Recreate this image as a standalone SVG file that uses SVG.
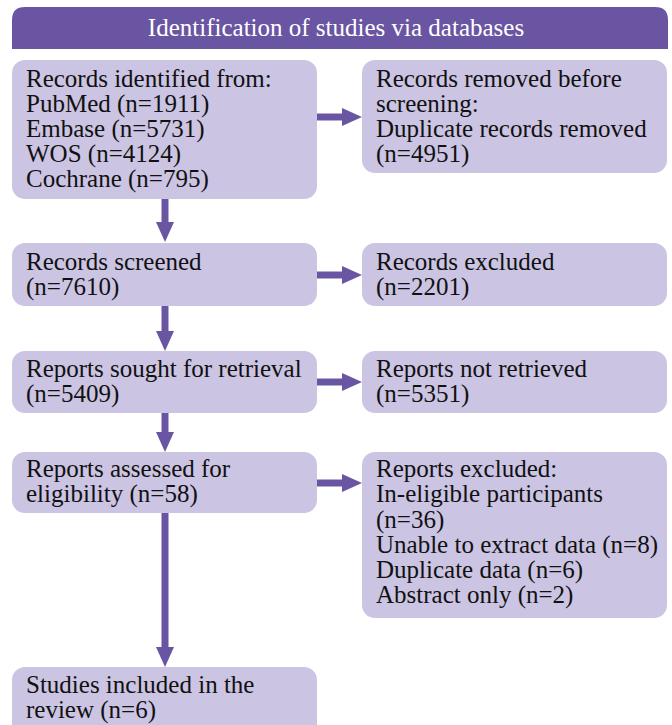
<svg xmlns="http://www.w3.org/2000/svg" width="672" height="725" viewBox="0 0 672 725">
<style>
.box{fill:#cbc4e3;}
.t{font-family:"Liberation Serif","Times New Roman",serif;font-size:25px;fill:#111;}
.h{font-family:"Liberation Serif","Times New Roman",serif;font-size:25px;fill:#fff;}
.c{stroke:#6a55a3;stroke-width:7;fill:none;}
</style>
<defs>
<marker id="ah" markerUnits="userSpaceOnUse" markerWidth="20" markerHeight="18" refX="0" refY="9" orient="auto">
<path d="M0,0 L20,9 L0,18 z" fill="#6a55a3"/>
</marker>
</defs>
<rect width="672" height="725" fill="#fff"/>
<g id="header">
<path d="M12,49 V20 Q12,7 25,7 H655 Q668,7 668,20 V49 Z" fill="#6a55a3"/>
<text class="h" x="336" y="36" text-anchor="middle">Identification of studies via databases</text>
</g>
<g id="identified">
<rect class="box" x="12" y="60" width="305" height="139" rx="13"/>
<text class="t" x="26" y="87">Records identified from:</text>
<text class="t" x="26" y="112">PubMed (n=1911)</text>
<text class="t" x="26" y="137">Embase (n=5731)</text>
<text class="t" x="26" y="162">WOS (n=4124)</text>
<text class="t" x="26" y="187">Cochrane (n=795)</text>
</g>
<g id="removed">
<rect class="box" x="362" y="60" width="305" height="113" rx="13"/>
<text class="t" x="376" y="87">Records removed before</text>
<text class="t" x="376" y="112">screening:</text>
<text class="t" x="376" y="137">Duplicate records removed</text>
<text class="t" x="376" y="162">(n=4951)</text>
</g>
<g id="screened">
<rect class="box" x="12" y="243" width="305" height="63" rx="13"/>
<text class="t" x="26" y="270">Records screened</text>
<text class="t" x="26" y="295">(n=7610)</text>
</g>
<g id="excluded">
<rect class="box" x="362" y="243" width="305" height="63" rx="13"/>
<text class="t" x="376" y="270">Records excluded</text>
<text class="t" x="376" y="295">(n=2201)</text>
</g>
<g id="sought">
<rect class="box" x="12" y="351" width="305" height="62" rx="13"/>
<text class="t" x="26" y="377">Reports sought for retrieval</text>
<text class="t" x="26" y="402">(n=5409)</text>
</g>
<g id="notretrieved">
<rect class="box" x="362" y="351" width="305" height="62" rx="13"/>
<text class="t" x="376" y="377">Reports not retrieved</text>
<text class="t" x="376" y="402">(n=5351)</text>
</g>
<g id="assessed">
<rect class="box" x="12" y="452" width="305" height="61" rx="13"/>
<text class="t" x="26" y="477">Reports assessed for</text>
<text class="t" x="26" y="502">eligibility (n=58)</text>
</g>
<g id="reportsexcluded">
<rect class="box" x="362" y="452" width="305" height="166" rx="13"/>
<text class="t" x="376" y="477">Reports excluded:</text>
<text class="t" x="376" y="502">In-eligible participants</text>
<text class="t" x="376" y="528">(n=36)</text>
<text class="t" x="376" y="553">Unable to extract data (n=8)</text>
<text class="t" x="376" y="578">Duplicate data (n=6)</text>
<text class="t" x="376" y="603">Abstract only (n=2)</text>
</g>
<g id="included">
<rect class="box" x="12" y="667" width="305" height="80" rx="13"/>
<text class="t" x="26" y="693">Studies included in the</text>
<text class="t" x="26" y="718">review (n=6)</text>
</g>
<g id="connectors">
<line class="c" x1="165" y1="199" x2="165" y2="222" marker-end="url(#ah)"/>
<line class="c" x1="165" y1="306" x2="165" y2="331" marker-end="url(#ah)"/>
<line class="c" x1="165" y1="413" x2="165" y2="432" marker-end="url(#ah)"/>
<line class="c" x1="165" y1="513" x2="165" y2="647" marker-end="url(#ah)"/>
<line class="c" x1="317" y1="117" x2="342" y2="117" marker-end="url(#ah)"/>
<line class="c" x1="317" y1="275" x2="342" y2="275" marker-end="url(#ah)"/>
<line class="c" x1="317" y1="382" x2="342" y2="382" marker-end="url(#ah)"/>
<line class="c" x1="317" y1="483" x2="342" y2="483" marker-end="url(#ah)"/>
</g>
</svg>
